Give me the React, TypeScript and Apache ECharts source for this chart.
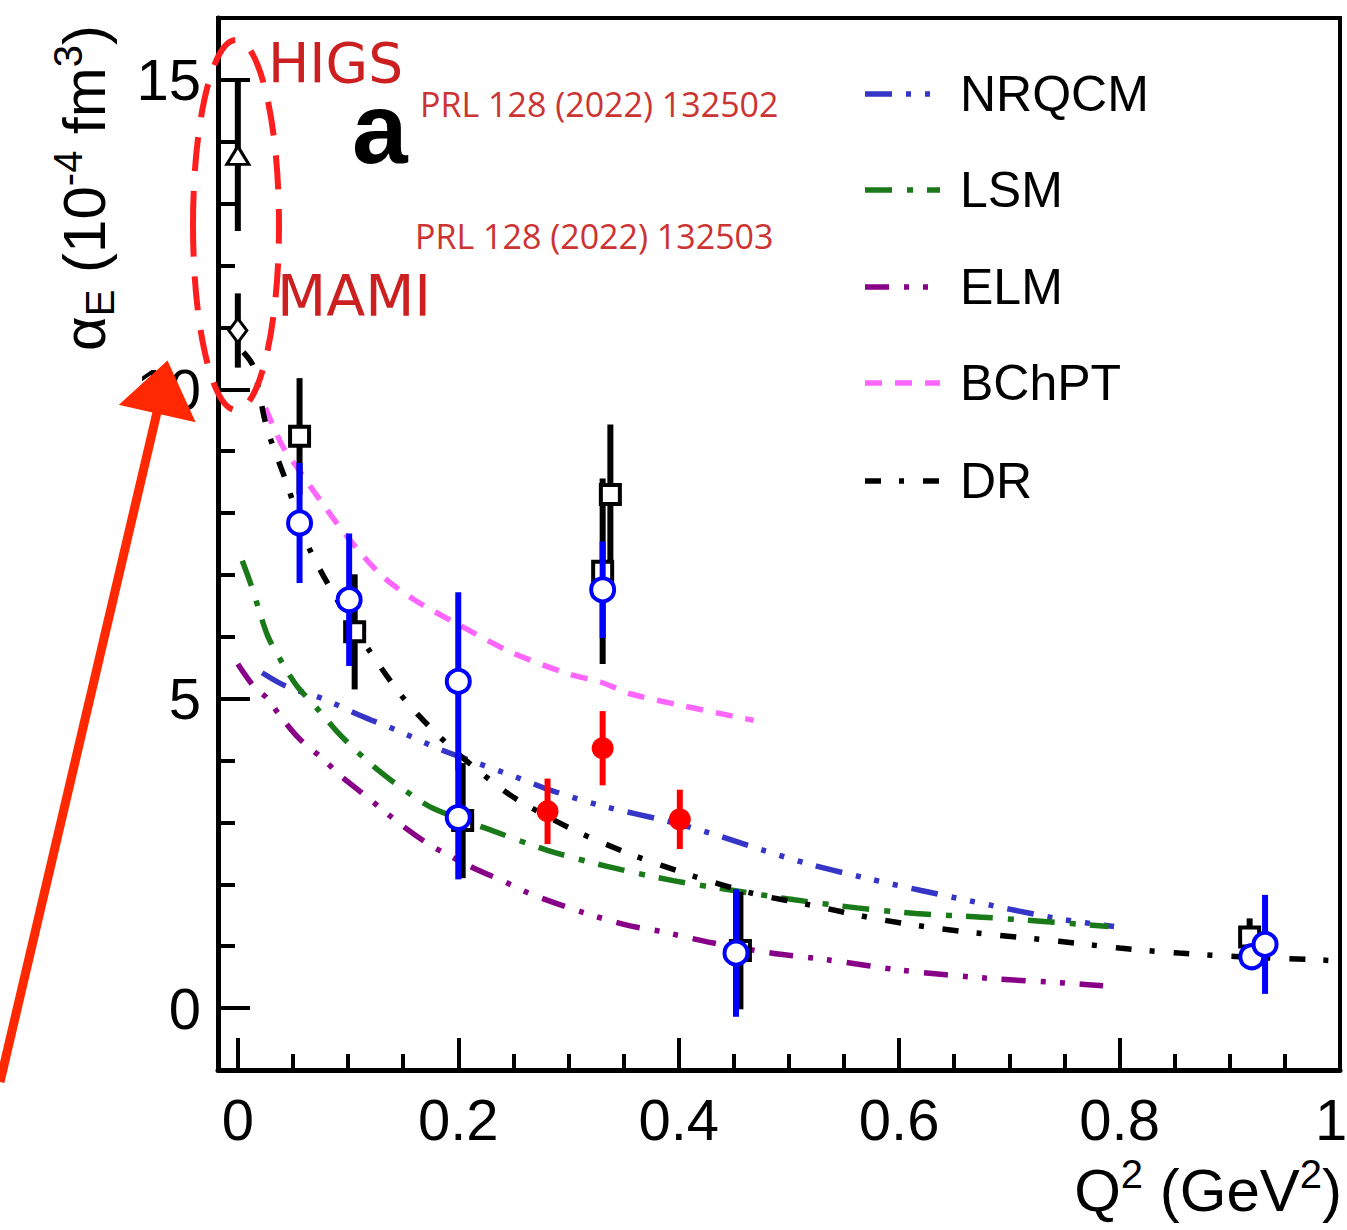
import React, { useEffect, useRef } from "react";
import * as echarts from "echarts";

const FONT = "'Liberation Sans', Arial, Helvetica, sans-serif";

// axis ticks
const xTickValues = [0, 0.2, 0.4, 0.6, 0.8, 1];
const xMinorValues = [0.05, 0.1, 0.15, 0.25, 0.3, 0.35, 0.45, 0.5, 0.55, 0.65, 0.7, 0.75, 0.85, 0.9, 0.95];
const yTickValues = [0, 5, 10, 15];
const yMinorValues = [1, 2, 3, 4, 6, 7, 8, 9, 11, 12, 13, 14];

// theory curves: [Q2, alphaE]
const nrqcmCurve = [[0.022, 5.42], [0.044, 5.2], [0.077, 5.0], [0.111, 4.73], [0.147, 4.47], [0.181, 4.2], [0.214, 3.98], [0.25, 3.75], [0.284, 3.52], [0.33, 3.27], [0.39, 3.02], [0.43, 2.82], [0.475, 2.56], [0.52, 2.32], [0.57, 2.1], [0.62, 1.9], [0.652, 1.78], [0.7, 1.6], [0.749, 1.43], [0.795, 1.32]];
const lsmCurve = [[0.004, 7.23], [0.011, 6.89], [0.017, 6.56], [0.027, 6.02], [0.038, 5.65], [0.053, 5.22], [0.072, 4.84], [0.09, 4.47], [0.108, 4.15], [0.129, 3.82], [0.153, 3.5], [0.177, 3.23], [0.226, 2.9], [0.281, 2.55], [0.335, 2.29], [0.395, 2.06], [0.45, 1.9], [0.505, 1.75], [0.562, 1.62], [0.615, 1.53], [0.675, 1.47], [0.731, 1.4], [0.79, 1.32]];
const elmCurve = [[0.0, 5.56], [0.014, 5.21], [0.027, 5.0], [0.038, 4.73], [0.056, 4.35], [0.077, 4.03], [0.093, 3.76], [0.111, 3.5], [0.15, 2.94], [0.175, 2.63], [0.211, 2.29], [0.241, 2.05], [0.265, 1.85], [0.311, 1.56], [0.353, 1.34], [0.384, 1.24], [0.426, 1.07], [0.484, 0.89], [0.535, 0.78], [0.603, 0.61], [0.682, 0.48], [0.756, 0.4], [0.785, 0.36]];
const bchptCurve = [[0.025, 9.7], [0.04, 9.1], [0.056, 8.68], [0.075, 8.2], [0.1, 7.6], [0.13, 7.0], [0.16, 6.6], [0.2, 6.2], [0.247, 5.76], [0.3, 5.4], [0.329, 5.27], [0.356, 5.08], [0.4, 4.9], [0.468, 4.65]];
const drCurve = [[0.005, 10.6], [0.014, 10.37], [0.026, 9.4], [0.045, 8.45], [0.063, 7.5], [0.09, 6.6], [0.12, 5.76], [0.153, 4.95], [0.193, 4.22], [0.235, 3.6], [0.259, 3.31], [0.308, 2.85], [0.359, 2.47], [0.414, 2.13], [0.468, 1.85], [0.521, 1.66], [0.577, 1.45], [0.634, 1.29], [0.689, 1.18], [0.745, 1.08], [0.8, 0.97], [0.854, 0.89], [0.92, 0.82], [0.97, 0.79], [1.0, 0.76]];

// data points
const sqQ2 = [0.056, 0.106, 0.204, 0.331, 0.338, 0.456, 0.918];
const sqAlpha = [9.24, 6.08, 3.03, 7.06, 8.3, 0.93, 1.15];
const sqErr = [0.94, 0.93, 0.93, 1.5, 1.13, 0.95, 0.3];

const ciQ2 = [0.056, 0.101, 0.2, 0.2, 0.331, 0.452, 0.92, 0.932];
const ciAlpha = [7.84, 6.6, 5.28, 3.08, 6.76, 0.89, 0.83, 1.03];
const ciErr = [0.97, 1.07, 1.44, 1.0, 0.78, 1.03, 0, 0.8];

const rdQ2 = [0.281, 0.331, 0.401];
const rdAlpha = [3.18, 4.2, 3.05];
const rdErr = [0.53, 0.6, 0.48];

const higsQ2 = [0];
const higsAlpha = [13.78];
const higsErr = [1.22];

const mamiQ2 = [0];
const mamiAlpha = [10.95];
const mamiErr = [0.6];

const modelNames = ["NRQCM", "LSM", "ELM", "BChPT", "DR"];
const modelColors = ["#3535C8", "#1A7A1A", "#880088", "#FF66FF", "#000000"];
const modelDashes = [
  [27, 14, 5, 14, 5, 14, 5, 14],
  [27, 15, 6, 14],
  [24, 15, 5, 14, 5, 15],
  [17, 13],
  [16, 18, 5, 19],
];

const pts = (xs: number[], ys: number[]) => xs.map((x, i) => [x, ys[i]]);
const errPts = (xs: number[], ys: number[], es: number[]) => xs.map((x, i) => [x, ys[i], es[i]]);

const errRender = (color: string, width: number) => (params: any, api: any) => {
  const x = api.value(0);
  const y = api.value(1);
  const e = api.value(2);
  const p1 = api.coord([x, y + e]);
  const p2 = api.coord([x, y - e]);
  return {
    type: "line",
    shape: { x1: p1[0], y1: p1[1], x2: p2[0], y2: p2[1] },
    style: { stroke: color, lineWidth: width },
  };
};

export default function App() {
  const ref = useRef<HTMLDivElement>(null);

  useEffect(() => {
    if (!ref.current) return;
    const chart = echarts.init(ref.current, undefined, { renderer: "svg" });
    const curves = [nrqcmCurve, lsmCurve, elmCurve, bchptCurve, drCurve];

    const lineSeries = curves.map((c, i) => ({
      name: modelNames[i],
      type: "line",
      data: c,
      showSymbol: false,
      smooth: 0.3,
      z: 2,
      lineStyle: { color: modelColors[i], width: 5.5, type: modelDashes[i], cap: "butt" },
    }));

    const legendY = [94, 190, 287, 383, 481];
    const legendGraphics: any[] = [];
    modelNames.forEach((n, i) => {
      legendGraphics.push({
        type: "line",
        shape: { x1: 865, y1: legendY[i], x2: 940, y2: legendY[i] },
        style: { stroke: modelColors[i], lineWidth: 5.5, lineDash: modelDashes[i] },
      });
      legendGraphics.push({
        type: "text",
        x: 960,
        y: legendY[i],
        style: { text: n, fontFamily: FONT, fontSize: 50, fill: "#000", align: "left", verticalAlign: "middle" },
      });
    });

    const hiddenLine = { show: false, onZero: false };

    const option: any = {
      animation: false,
      backgroundColor: "#ffffff",
      grid: { left: 218, top: 18, right: 7, bottom: 160, show: true, borderColor: "#000", borderWidth: 4, outerBoundsMode: "none", containLabel: false },
      xAxis: [
        {
          type: "value", min: -0.018, max: 1.0, position: "bottom",
          axisLine: { show: true, onZero: false, lineStyle: { color: "#000", width: 5 } },
          axisTick: { show: true, inside: true, length: 32, lineStyle: { color: "#000", width: 4 }, customValues: xTickValues },
          axisLabel: {
            show: true, customValues: xTickValues, margin: 20, fontSize: 58, fontFamily: FONT, color: "#000",
            formatter: (v: number) => (v === 1 ? "{r|1}" : String(v)),
            rich: { r: { fontSize: 58, fontFamily: FONT, color: "#000", padding: [0, 18, 0, 0] } },
          },
          splitLine: { show: false },
        },
        {
          type: "value", min: -0.018, max: 1.0, position: "bottom",
          axisLine: hiddenLine,
          axisTick: { show: true, inside: true, length: 16, lineStyle: { color: "#000", width: 4 }, customValues: xMinorValues },
          axisLabel: { show: false },
          splitLine: { show: false },
        },
      ],
      yAxis: [
        {
          type: "value", min: -1, max: 16, position: "left",
          axisLine: { show: true, onZero: false, lineStyle: { color: "#000", width: 5 } },
          axisTick: { show: true, inside: true, length: 32, lineStyle: { color: "#000", width: 4 }, customValues: yTickValues },
          axisLabel: { show: true, customValues: yTickValues, margin: 17, fontSize: 58, fontFamily: FONT, color: "#000" },
          splitLine: { show: false },
        },
        {
          type: "value", min: -1, max: 16, position: "left",
          axisLine: hiddenLine,
          axisTick: { show: true, inside: true, length: 17, lineStyle: { color: "#000", width: 4 }, customValues: yMinorValues },
          axisLabel: { show: false },
          splitLine: { show: false },
        },
      ],
      series: [
        ...lineSeries,
        { name: "HIGS err", type: "custom", renderItem: errRender("#000", 6), data: errPts(higsQ2, higsAlpha, higsErr), encode: { x: 0, y: 1 }, z: 3 },
        { name: "MAMI err", type: "custom", renderItem: errRender("#000", 6), data: errPts(mamiQ2, mamiAlpha, mamiErr), encode: { x: 0, y: 1 }, z: 3 },
        { name: "black err", type: "custom", renderItem: errRender("#000", 6), data: errPts(sqQ2, sqAlpha, sqErr), encode: { x: 0, y: 1 }, z: 3 },
        { name: "HIGS", type: "scatter", data: pts(higsQ2, higsAlpha), symbol: "triangle", symbolSize: [22, 18], itemStyle: { color: "#fff", borderColor: "#000", borderWidth: 3, opacity: 1 }, z: 4 },
        { name: "MAMI", type: "scatter", data: pts(mamiQ2, mamiAlpha), symbol: "diamond", symbolSize: [18, 24], itemStyle: { color: "#fff", borderColor: "#000", borderWidth: 3, opacity: 1 }, z: 4 },
        { name: "squares", type: "scatter", data: pts(sqQ2, sqAlpha), symbol: "rect", symbolSize: 19, itemStyle: { color: "#fff", borderColor: "#000", borderWidth: 4, opacity: 1 }, z: 4 },
        { name: "blue err", type: "custom", renderItem: errRender("#0000FF", 6), data: errPts(ciQ2, ciAlpha, ciErr), encode: { x: 0, y: 1 }, z: 5 },
        { name: "circles", type: "scatter", data: pts(ciQ2, ciAlpha), symbol: "circle", symbolSize: 23, itemStyle: { color: "#fff", borderColor: "#0000FF", borderWidth: 4, opacity: 1 }, z: 6 },
        { name: "red err", type: "custom", renderItem: errRender("#FF0000", 6), data: errPts(rdQ2, rdAlpha, rdErr), encode: { x: 0, y: 1 }, z: 7 },
        { name: "red", type: "scatter", data: pts(rdQ2, rdAlpha), symbol: "circle", symbolSize: 22, itemStyle: { color: "#FF0000", opacity: 1 }, z: 8 },
      ],
      graphic: [
        ...legendGraphics,
        {
          type: "text", x: 84, y: 188, rotation: Math.PI / 2,
          style: {
            text: "{m|α}{sub|E}{m| (10}{sup|-4}{m| fm}{sup|3}{m|)}",
            align: "center", verticalAlign: "middle", fill: "#000",
            rich: {
              m: { fontFamily: FONT, fontSize: 60, lineHeight: 72, fill: "#000" },
              sub: { fontFamily: FONT, fontSize: 40, lineHeight: 40, verticalAlign: "bottom", fill: "#000" },
              sup: { fontFamily: FONT, fontSize: 40, lineHeight: 40, verticalAlign: "top", fill: "#000" },
            },
          },
        },
        {
          type: "text", x: 1342, y: 1190,
          style: {
            text: "{m|Q}{sup|2}{m| (GeV}{sup|2}{m|)}",
            align: "right", verticalAlign: "middle", fill: "#000",
            rich: {
              m: { fontFamily: FONT, fontSize: 60, lineHeight: 72, fill: "#000" },
              sup: { fontFamily: FONT, fontSize: 40, lineHeight: 40, verticalAlign: "top", fill: "#000" },
            },
          },
        },
        { type: "text", x: 352, y: 128, style: { text: "a", fontFamily: FONT, fontSize: 100, fontWeight: "bold", fill: "#000", align: "left", verticalAlign: "middle" } },
        { type: "text", x: 420, y: 104, style: { text: "PRL 128 (2022) 132502", fontFamily: "'Open Sans', sans-serif", fontSize: 34, fill: "#CC3333", align: "left", verticalAlign: "middle" } },
        { type: "text", x: 415, y: 236, style: { text: "PRL 128 (2022) 132503", fontFamily: "'Open Sans', sans-serif", fontSize: 34, fill: "#CC3333", align: "left", verticalAlign: "middle" } },
        { type: "text", x: 268, y: 63, style: { text: "HIGS", fontFamily: "'DejaVu Sans', sans-serif", fontSize: 55, fill: "#CC1F1F", align: "left", verticalAlign: "middle" } },
        { type: "text", x: 277, y: 296, style: { text: "MAMI", fontFamily: "'DejaVu Sans', sans-serif", fontSize: 57, fill: "#CC1F1F", align: "left", verticalAlign: "middle" } },
        { type: "ellipse", shape: { cx: 236, cy: 225, rx: 43, ry: 185 }, style: { fill: "none", stroke: "#FF1E1E", lineWidth: 6, lineDash: [34, 20] }, z: 100 },
        { type: "polyline", shape: { points: [[0, 1082], [158, 408]] }, style: { stroke: "#FF2800", lineWidth: 9, fill: "none" }, z: 100 },
        { type: "polygon", shape: { points: [[122, 404], [193, 420], [167, 363]] }, style: { fill: "#FF2800", stroke: "#FF2800", lineWidth: 3 }, z: 100 },
      ],
    };
    chart.setOption(option);
    return () => chart.dispose();
  }, []);

  return <div ref={ref} style={{ position: "fixed", left: 0, top: 0, width: 1347, height: 1230, background: "#fff" }} />;
}
